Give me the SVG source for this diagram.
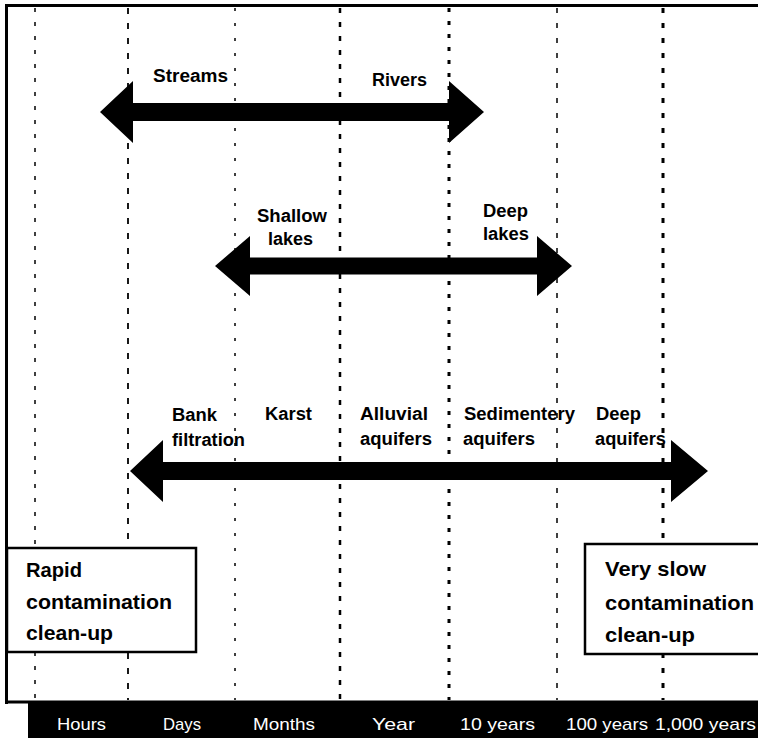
<svg xmlns="http://www.w3.org/2000/svg" width="758" height="738" viewBox="0 0 758 738">
<style>
.lbl{font-family:"Liberation Sans",Arial,sans-serif;font-weight:bold;font-size:18px;fill:#000}
.box{fill:#fff;stroke:#000;stroke-width:2.5}
.bt{font-family:"Liberation Sans",Arial,sans-serif;font-weight:bold;font-size:21px;fill:#000}
.ax{font-family:"Liberation Sans",Arial,sans-serif;font-size:17px;fill:#fff}
.grid line{stroke:#000}
.arrow{fill:#000}
</style>
<rect width="758" height="738" fill="#fff"/>
<g id="frame">
<line x1="5" y1="5.5" x2="758" y2="5.5" stroke="#000" stroke-width="3"/>
<line x1="6.5" y1="5" x2="6.5" y2="704" stroke="#000" stroke-width="3"/>
<line x1="5" y1="702" x2="758" y2="702" stroke="#000" stroke-width="3"/>
<rect x="28" y="702" width="730" height="36" fill="#000"/>
</g>
<g id="gridlines" class="grid">
<line x1="35" y1="8" x2="35" y2="700" stroke-width="1.5" stroke-dasharray="4 10"/>
<line x1="128" y1="8" x2="128" y2="700" stroke-width="1.8" stroke-dasharray="6 9"/>
<line x1="235" y1="8" x2="235" y2="700" stroke-width="1.5" stroke-dasharray="3 12"/>
<line x1="340" y1="8" x2="340" y2="700" stroke-width="2.5" stroke-dasharray="5 9"/>
<line x1="449" y1="8" x2="449" y2="700" stroke-width="3" stroke-dasharray="4 9"/>
<line x1="557" y1="8" x2="557" y2="700" stroke-width="1.5" stroke-dasharray="5 10"/>
<line x1="663" y1="8" x2="663" y2="700" stroke-width="3" stroke-dasharray="5 10"/>
</g>
<g id="connectors">
<path class="arrow" d="M100,112 L133,81 L133,103 L449,103 L449,81 L484,112 L449,143 L449,121 L133,121 L133,143 Z"/>
<path class="arrow" d="M215,266 L250,236 L250,257.5 L537,257.5 L537,236 L572,266 L537,296 L537,274.5 L250,274.5 L250,296 Z"/>
<path class="arrow" d="M130,471 L163,440 L163,462 L671,462 L671,440 L708,471 L671,502 L671,480 L163,480 L163,502 Z"/>
</g>
<g id="streams"><text class="lbl" x="153" y="82" textLength="75" lengthAdjust="spacingAndGlyphs">Streams</text></g>
<g id="rivers"><text class="lbl" x="372" y="86" textLength="55" lengthAdjust="spacingAndGlyphs">Rivers</text></g>
<g id="shallow-lakes">
<text class="lbl" x="257" y="222" textLength="70" lengthAdjust="spacingAndGlyphs">Shallow</text>
<text class="lbl" x="268" y="245" textLength="45" lengthAdjust="spacingAndGlyphs">lakes</text>
</g>
<g id="deep-lakes">
<text class="lbl" x="483" y="217" textLength="45" lengthAdjust="spacingAndGlyphs">Deep</text>
<text class="lbl" x="483" y="240" textLength="46" lengthAdjust="spacingAndGlyphs">lakes</text>
</g>
<g id="bank-filtration">
<text class="lbl" x="172" y="421" textLength="45" lengthAdjust="spacingAndGlyphs">Bank</text>
<text class="lbl" x="172" y="446" textLength="73" lengthAdjust="spacingAndGlyphs">filtration</text>
</g>
<g id="karst"><text class="lbl" x="265" y="420" textLength="47" lengthAdjust="spacingAndGlyphs">Karst</text></g>
<g id="alluvial-aquifers">
<text class="lbl" x="360" y="420" textLength="68" lengthAdjust="spacingAndGlyphs">Alluvial</text>
<text class="lbl" x="360" y="445" textLength="72" lengthAdjust="spacingAndGlyphs">aquifers</text>
</g>
<g id="sedimentery-aquifers">
<text class="lbl" x="464" y="420" textLength="111" lengthAdjust="spacingAndGlyphs">Sedimentery</text>
<text class="lbl" x="463" y="445" textLength="72" lengthAdjust="spacingAndGlyphs">aquifers</text>
</g>
<g id="deep-aquifers">
<text class="lbl" x="596" y="420" textLength="45" lengthAdjust="spacingAndGlyphs">Deep</text>
<text class="lbl" x="595" y="445" textLength="71" lengthAdjust="spacingAndGlyphs">aquifers</text>
</g>
<g id="rapid-box">
<rect class="box" x="7" y="548" width="189" height="104"/>
<text class="bt" x="26" y="577" textLength="56" lengthAdjust="spacingAndGlyphs">Rapid</text>
<text class="bt" x="26" y="609" textLength="146" lengthAdjust="spacingAndGlyphs">contamination</text>
<text class="bt" x="26" y="640" textLength="87" lengthAdjust="spacingAndGlyphs">clean-up</text>
</g>
<g id="slow-box">
<rect class="box" x="585" y="544" width="185" height="110"/>
<text class="bt" x="605" y="576" textLength="101" lengthAdjust="spacingAndGlyphs">Very slow</text>
<text class="bt" x="605" y="610" textLength="149" lengthAdjust="spacingAndGlyphs">contamination</text>
<text class="bt" x="605" y="642" textLength="90" lengthAdjust="spacingAndGlyphs">clean-up</text>
</g>
<g id="axis">
<text class="ax" x="57" y="730" textLength="49" lengthAdjust="spacingAndGlyphs">Hours</text>
<text class="ax" x="163" y="730" textLength="38" lengthAdjust="spacingAndGlyphs">Days</text>
<text class="ax" x="253" y="730" textLength="62" lengthAdjust="spacingAndGlyphs">Months</text>
<text class="ax" x="372" y="730" textLength="43" lengthAdjust="spacingAndGlyphs">Year</text>
<text class="ax" x="460" y="730" textLength="75" lengthAdjust="spacingAndGlyphs">10 years</text>
<text class="ax" x="566" y="730" textLength="82" lengthAdjust="spacingAndGlyphs">100 years</text>
<text class="ax" x="655" y="730" textLength="101" lengthAdjust="spacingAndGlyphs">1,000 years</text>
</g>
</svg>
